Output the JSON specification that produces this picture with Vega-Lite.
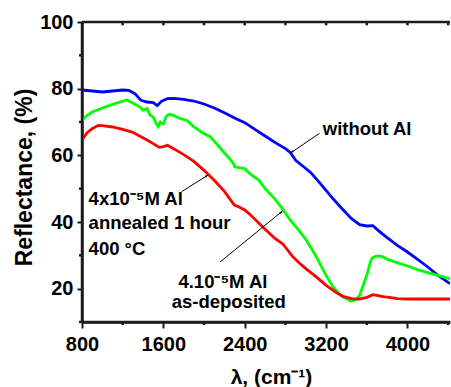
{
  "$schema": "https://vega.github.io/schema/vega-lite/v6.json",
  "width": 368,
  "height": 300,
  "autosize": {"type": "none"},
  "padding": {"left": 82, "top": 22, "right": 1, "bottom": 65},
  "background": "white",
  "config": {
    "view": {"stroke": null},
    "axis": {
      "domainColor": "#1c1c1c", "domainWidth": 2.5, "tickColor": "#1c1c1c", "tickWidth": 2,
      "labelFont": "Liberation Sans", "labelFontWeight": "bold", "labelColor": "black",
      "labelOverlap": false, "labelFlush": false,
      "titleFont": "Liberation Sans", "titleFontWeight": "bold", "titleColor": "black",
      "grid": false
    }
  },
  "datasets": {
    "curves": [
      {"s": "without Al", "x": 800, "y": 79.6}, {"s": "without Al", "x": 900, "y": 79.3}, {"s": "without Al", "x": 1000, "y": 79.0}, {"s": "without Al", "x": 1100, "y": 79.3}, {"s": "without Al", "x": 1200, "y": 79.6}, {"s": "without Al", "x": 1260, "y": 79.5}, {"s": "without Al", "x": 1320, "y": 78.5}, {"s": "without Al", "x": 1380, "y": 76.5}, {"s": "without Al", "x": 1440, "y": 76.0}, {"s": "without Al", "x": 1500, "y": 75.8}, {"s": "without Al", "x": 1540, "y": 74.9}, {"s": "without Al", "x": 1580, "y": 76.2}, {"s": "without Al", "x": 1640, "y": 77.0}, {"s": "without Al", "x": 1700, "y": 77.1}, {"s": "without Al", "x": 1800, "y": 76.8}, {"s": "without Al", "x": 1900, "y": 76.3}, {"s": "without Al", "x": 2000, "y": 75.4}, {"s": "without Al", "x": 2100, "y": 74.2}, {"s": "without Al", "x": 2200, "y": 72.8}, {"s": "without Al", "x": 2300, "y": 71.2}, {"s": "without Al", "x": 2400, "y": 69.8}, {"s": "without Al", "x": 2500, "y": 67.8}, {"s": "without Al", "x": 2600, "y": 65.8}, {"s": "without Al", "x": 2700, "y": 63.8}, {"s": "without Al", "x": 2800, "y": 62.0}, {"s": "without Al", "x": 2850, "y": 60.8}, {"s": "without Al", "x": 2900, "y": 58.5}, {"s": "without Al", "x": 2970, "y": 56.8}, {"s": "without Al", "x": 3050, "y": 54.8}, {"s": "without Al", "x": 3150, "y": 51.3}, {"s": "without Al", "x": 3250, "y": 47.6}, {"s": "without Al", "x": 3350, "y": 44.2}, {"s": "without Al", "x": 3450, "y": 41.0}, {"s": "without Al", "x": 3530, "y": 39.2}, {"s": "without Al", "x": 3600, "y": 38.8}, {"s": "without Al", "x": 3660, "y": 38.9}, {"s": "without Al", "x": 3700, "y": 37.8}, {"s": "without Al", "x": 3750, "y": 36.5}, {"s": "without Al", "x": 3800, "y": 35.3}, {"s": "without Al", "x": 3900, "y": 33.0}, {"s": "without Al", "x": 4000, "y": 31.0}, {"s": "without Al", "x": 4100, "y": 28.8}, {"s": "without Al", "x": 4200, "y": 26.5}, {"s": "without Al", "x": 4300, "y": 24.0}, {"s": "without Al", "x": 4418, "y": 21.5},
      {"s": "as-deposited", "x": 800, "y": 70.5}, {"s": "as-deposited", "x": 850, "y": 72.0}, {"s": "as-deposited", "x": 900, "y": 73.0}, {"s": "as-deposited", "x": 950, "y": 73.6}, {"s": "as-deposited", "x": 1000, "y": 74.2}, {"s": "as-deposited", "x": 1100, "y": 75.3}, {"s": "as-deposited", "x": 1175, "y": 76.0}, {"s": "as-deposited", "x": 1240, "y": 76.6}, {"s": "as-deposited", "x": 1280, "y": 76.0}, {"s": "as-deposited", "x": 1330, "y": 75.2}, {"s": "as-deposited", "x": 1371, "y": 74.5}, {"s": "as-deposited", "x": 1400, "y": 73.5}, {"s": "as-deposited", "x": 1440, "y": 74.0}, {"s": "as-deposited", "x": 1470, "y": 72.0}, {"s": "as-deposited", "x": 1500, "y": 71.5}, {"s": "as-deposited", "x": 1530, "y": 69.5}, {"s": "as-deposited", "x": 1550, "y": 68.6}, {"s": "as-deposited", "x": 1570, "y": 70.0}, {"s": "as-deposited", "x": 1600, "y": 69.5}, {"s": "as-deposited", "x": 1630, "y": 71.8}, {"s": "as-deposited", "x": 1660, "y": 72.3}, {"s": "as-deposited", "x": 1700, "y": 72.0}, {"s": "as-deposited", "x": 1750, "y": 71.2}, {"s": "as-deposited", "x": 1830, "y": 70.5}, {"s": "as-deposited", "x": 1900, "y": 68.5}, {"s": "as-deposited", "x": 2000, "y": 66.5}, {"s": "as-deposited", "x": 2060, "y": 65.6}, {"s": "as-deposited", "x": 2150, "y": 62.5}, {"s": "as-deposited", "x": 2250, "y": 59.0}, {"s": "as-deposited", "x": 2290, "y": 57.5}, {"s": "as-deposited", "x": 2300, "y": 56.6}, {"s": "as-deposited", "x": 2330, "y": 56.4}, {"s": "as-deposited", "x": 2400, "y": 56.0}, {"s": "as-deposited", "x": 2450, "y": 54.5}, {"s": "as-deposited", "x": 2540, "y": 52.5}, {"s": "as-deposited", "x": 2600, "y": 50.0}, {"s": "as-deposited", "x": 2700, "y": 46.8}, {"s": "as-deposited", "x": 2775, "y": 43.8}, {"s": "as-deposited", "x": 2850, "y": 40.5}, {"s": "as-deposited", "x": 2940, "y": 37.2}, {"s": "as-deposited", "x": 3000, "y": 34.8}, {"s": "as-deposited", "x": 3100, "y": 29.8}, {"s": "as-deposited", "x": 3200, "y": 24.0}, {"s": "as-deposited", "x": 3265, "y": 20.6}, {"s": "as-deposited", "x": 3350, "y": 17.8}, {"s": "as-deposited", "x": 3445, "y": 16.2}, {"s": "as-deposited", "x": 3500, "y": 16.8}, {"s": "as-deposited", "x": 3530, "y": 18.0}, {"s": "as-deposited", "x": 3570, "y": 21.5}, {"s": "as-deposited", "x": 3600, "y": 24.0}, {"s": "as-deposited", "x": 3640, "y": 28.5}, {"s": "as-deposited", "x": 3660, "y": 29.4}, {"s": "as-deposited", "x": 3700, "y": 29.8}, {"s": "as-deposited", "x": 3755, "y": 29.6}, {"s": "as-deposited", "x": 3800, "y": 28.8}, {"s": "as-deposited", "x": 3920, "y": 27.6}, {"s": "as-deposited", "x": 4000, "y": 26.8}, {"s": "as-deposited", "x": 4100, "y": 25.7}, {"s": "as-deposited", "x": 4200, "y": 24.8}, {"s": "as-deposited", "x": 4300, "y": 24.0}, {"s": "as-deposited", "x": 4418, "y": 23.0},
      {"s": "annealed", "x": 800, "y": 64.6}, {"s": "annealed", "x": 850, "y": 66.8}, {"s": "annealed", "x": 900, "y": 68.0}, {"s": "annealed", "x": 960, "y": 69.0}, {"s": "annealed", "x": 1000, "y": 68.9}, {"s": "annealed", "x": 1100, "y": 68.5}, {"s": "annealed", "x": 1200, "y": 67.8}, {"s": "annealed", "x": 1300, "y": 66.9}, {"s": "annealed", "x": 1380, "y": 65.6}, {"s": "annealed", "x": 1440, "y": 64.6}, {"s": "annealed", "x": 1500, "y": 63.5}, {"s": "annealed", "x": 1560, "y": 62.4}, {"s": "annealed", "x": 1600, "y": 62.6}, {"s": "annealed", "x": 1640, "y": 63.0}, {"s": "annealed", "x": 1700, "y": 62.0}, {"s": "annealed", "x": 1800, "y": 60.2}, {"s": "annealed", "x": 1900, "y": 58.2}, {"s": "annealed", "x": 2000, "y": 55.5}, {"s": "annealed", "x": 2100, "y": 52.5}, {"s": "annealed", "x": 2200, "y": 49.2}, {"s": "annealed", "x": 2280, "y": 45.8}, {"s": "annealed", "x": 2300, "y": 45.0}, {"s": "annealed", "x": 2330, "y": 44.7}, {"s": "annealed", "x": 2400, "y": 43.6}, {"s": "annealed", "x": 2450, "y": 42.3}, {"s": "annealed", "x": 2600, "y": 37.8}, {"s": "annealed", "x": 2700, "y": 35.0}, {"s": "annealed", "x": 2775, "y": 33.4}, {"s": "annealed", "x": 2875, "y": 29.5}, {"s": "annealed", "x": 2940, "y": 27.6}, {"s": "annealed", "x": 3000, "y": 26.0}, {"s": "annealed", "x": 3100, "y": 23.6}, {"s": "annealed", "x": 3200, "y": 21.0}, {"s": "annealed", "x": 3300, "y": 18.8}, {"s": "annealed", "x": 3365, "y": 17.7}, {"s": "annealed", "x": 3450, "y": 17.0}, {"s": "annealed", "x": 3526, "y": 16.9}, {"s": "annealed", "x": 3600, "y": 17.4}, {"s": "annealed", "x": 3660, "y": 18.2}, {"s": "annealed", "x": 3700, "y": 18.0}, {"s": "annealed", "x": 3760, "y": 17.6}, {"s": "annealed", "x": 3820, "y": 17.4}, {"s": "annealed", "x": 3900, "y": 17.0}, {"s": "annealed", "x": 4000, "y": 16.9}, {"s": "annealed", "x": 4200, "y": 16.9}, {"s": "annealed", "x": 4418, "y": 16.9}
    ],
    "labels": [
      {"x": 3167, "y": 66.1, "text": "without Al"},
      {"x": 865, "y": 45.1, "text": "4x10⁻⁵M Al"},
      {"x": 865, "y": 37.8, "text": "annealed 1 hour"},
      {"x": 865, "y": 30.1, "text": "400 °C"},
      {"x": 1748, "y": 20.2, "text": "4.10⁻⁵M Al"},
      {"x": 1682, "y": 14.2, "text": "as-deposited"}
    ],
    "arrows": [
      {"name": "a1", "x": 3135, "y": 66.6, "x2": 2850, "y2": 60.7},
      {"name": "a2", "x": 1780, "y": 49.1, "x2": 2040, "y2": 54.1},
      {"name": "a3", "x": 2157, "y": 28.0, "x2": 2772, "y2": 43.3}
    ],
    "frame": [
      {"x": 800, "y": 10, "x2": 800, "y2": 100},
      {"x": 800, "y": 10, "x2": 4418, "y2": 10},
      {"x": 800, "y": 100, "x2": 4418, "y2": 100},
      {"x": 1200, "y": 10, "x2": 1200, "y2": 9.1},
      {"x": 2000, "y": 10, "x2": 2000, "y2": 9.1},
      {"x": 2800, "y": 10, "x2": 2800, "y2": 9.1},
      {"x": 3600, "y": 10, "x2": 3600, "y2": 9.1},
      {"x": 4400, "y": 10, "x2": 4400, "y2": 9.1},
      {"x": 800, "y": 30, "x2": 771, "y2": 30},
      {"x": 800, "y": 50, "x2": 771, "y2": 50},
      {"x": 800, "y": 70, "x2": 771, "y2": 70},
      {"x": 800, "y": 90, "x2": 771, "y2": 90},
      {"x": 800, "y": 10, "x2": 771, "y2": 10},
      {"x": 1200, "y": 100, "x2": 1200, "y2": 99},
      {"x": 1600, "y": 100, "x2": 1600, "y2": 99},
      {"x": 2000, "y": 100, "x2": 2000, "y2": 99},
      {"x": 2400, "y": 100, "x2": 2400, "y2": 99},
      {"x": 2800, "y": 100, "x2": 2800, "y2": 99},
      {"x": 3200, "y": 100, "x2": 3200, "y2": 99},
      {"x": 3600, "y": 100, "x2": 3600, "y2": 99},
      {"x": 4000, "y": 100, "x2": 4000, "y2": 99},
      {"x": 4400, "y": 100, "x2": 4400, "y2": 99}
    ]
  },
  "layer": [
    {
      "data": {"name": "curves"},
      "mark": {"type": "line", "strokeWidth": 2.8, "clip": true},
      "encoding": {
        "x": {"field": "x", "type": "quantitative", "scale": {"domain": [800, 4418], "nice": false, "zero": false},
          "axis": {"orient": "bottom", "title": "λ, (cm⁻¹)", "titleFontSize": 21, "titleX": 189, "titleY": 61, "titleBaseline": "alphabetic",
            "values": [800, 1600, 2400, 3200, 4000], "format": "d",
            "labelFontSize": 20, "labelPadding": 6, "tickSize": 6}},
        "y": {"field": "y", "type": "quantitative", "scale": {"domain": [10, 100], "nice": false, "zero": false},
          "axis": {"orient": "left", "title": "Reflectance, (%)", "titleFontSize": 23, "titleAngle": -90, "titleX": -51, "titleY": 155, "titleBaseline": "alphabetic",
            "values": [20, 40, 60, 80, 100], "format": "d",
            "labelFontSize": 20, "labelPadding": 4, "tickSize": 5}},
        "color": {"field": "s", "type": "nominal", "legend": null,
          "scale": {"domain": ["without Al", "as-deposited", "annealed"], "range": ["#0000ff", "#00ff00", "#ff0000"]}}
      }
    },
    {
      "data": {"name": "frame"},
      "mark": {"type": "rule", "color": "#1c1c1c", "strokeWidth": 2.5},
      "encoding": {
        "x": {"field": "x", "type": "quantitative"},
        "y": {"field": "y", "type": "quantitative"},
        "x2": {"field": "x2"},
        "y2": {"field": "y2"}
      }
    },
    {
      "data": {"name": "arrows"},
      "mark": {"type": "rule", "color": "black", "strokeWidth": 1},
      "encoding": {
        "x": {"field": "x", "type": "quantitative"},
        "y": {"field": "y", "type": "quantitative"},
        "x2": {"field": "x2"},
        "y2": {"field": "y2"}
      }
    },
    {
      "data": {"name": "arrows"},
      "transform": [{"filter": "datum.name === 'a1'"}],
      "mark": {"type": "point", "shape": "M0,0L-0.4,1.2L0.4,1.2Z", "filled": true, "color": "black", "size": 30, "angle": 234, "opacity": 1},
      "encoding": {"x": {"field": "x2", "type": "quantitative"}, "y": {"field": "y2", "type": "quantitative"}}
    },
    {
      "data": {"name": "arrows"},
      "transform": [{"filter": "datum.name === 'a2'"}],
      "mark": {"type": "point", "shape": "M0,0L-0.4,1.2L0.4,1.2Z", "filled": true, "color": "black", "size": 30, "angle": 58, "opacity": 1},
      "encoding": {"x": {"field": "x2", "type": "quantitative"}, "y": {"field": "y2", "type": "quantitative"}}
    },
    {
      "data": {"name": "arrows"},
      "transform": [{"filter": "datum.name === 'a3'"}],
      "mark": {"type": "point", "shape": "M0,0L-0.4,1.2L0.4,1.2Z", "filled": true, "color": "black", "size": 30, "angle": 51, "opacity": 1},
      "encoding": {"x": {"field": "x2", "type": "quantitative"}, "y": {"field": "y2", "type": "quantitative"}}
    },
    {
      "data": {"name": "labels"},
      "mark": {"type": "text", "align": "left", "baseline": "alphabetic", "font": "Liberation Sans", "fontWeight": "bold", "fontSize": 18.5, "color": "black"},
      "encoding": {
        "x": {"field": "x", "type": "quantitative"},
        "y": {"field": "y", "type": "quantitative"},
        "text": {"field": "text"}
      }
    }
  ]
}
